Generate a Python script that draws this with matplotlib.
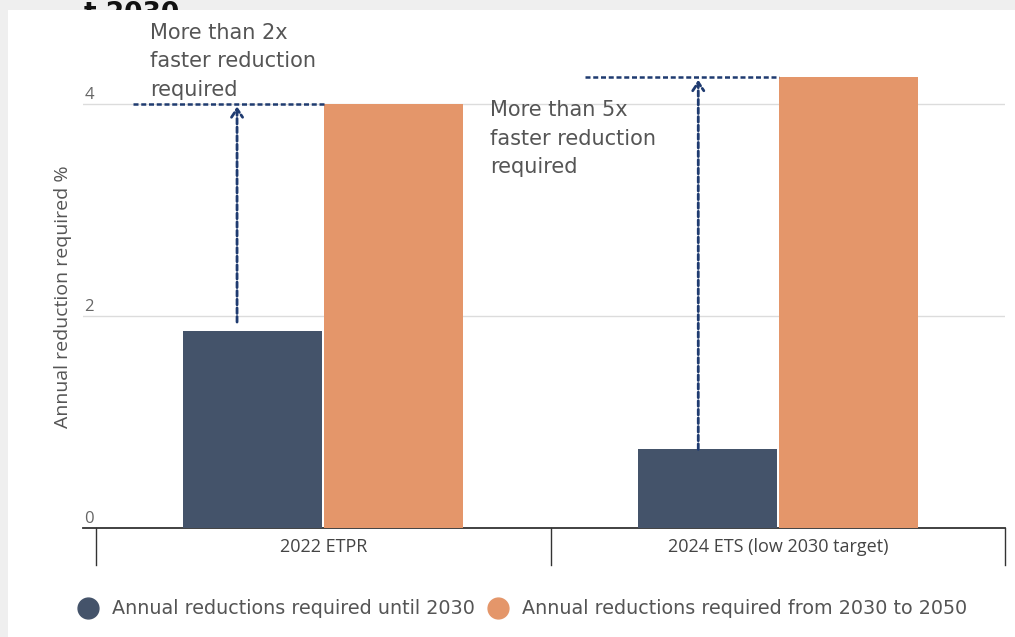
import matplotlib.pyplot as plt
from matplotlib.lines import Line2D
from matplotlib.patches import Rectangle

# Data
categories = ["2022 ETPR", "2024 ETS (low 2030 target)"]
until_2030 = [1.86, 0.745]
from_2030_to_2050 = [4.0, 4.25]
series_names = ["Annual reductions required until 2030",
                "Annual reductions required from 2030 to 2050"]
notes = ["More than 2x\nfaster reduction\nrequired",
         "More than 5x\nfaster reduction\nrequired"]
y_ticks = [0, 2, 4]

DARK = "#44536a"
ORANGE = "#e4966a"
ARROW = "#1f3b70"
FONT = "Open Sans"
WIDE = "DejaVu Sans"

W, H = 1015, 637
fig = plt.figure(figsize=(W / 100, H / 100), dpi=100)
fig.patch.set_facecolor("#efefef")


def px_box(x0, y0, x1, y1):
    # pixel box (top-left origin) -> figure fraction [left, bottom, width, height]
    return [x0 / W, 1 - y1 / H, (x1 - x0) / W, (y1 - y0) / H]


# cut-off title peeking above the white card
fig.text(84 / W, 1 - 1 / H, "t 2030", fontsize=19, fontweight="bold",
         family="DejaVu Sans", color="#111", va="top", ha="left", zorder=0)
fig.patches.append(Rectangle((8 / W, 0), 1 - 8 / W, 1 - 10 / H,
                             transform=fig.transFigure, facecolor="white",
                             edgecolor="none", zorder=1))

ax = fig.add_axes(px_box(83, 40, 1005, 528))
ax.set_zorder(2)
ax.patch.set_alpha(0)
ax.set_xlim(-0.529, 1.5)
ax.set_ylim(0, 4.6)

x = range(len(categories))
bw = 0.306
ax.bar([i - 0.155 for i in x], until_2030, width=bw, color=DARK, zorder=3)
ax.bar([i + 0.155 for i in x], from_2030_to_2050, width=bw, color=ORANGE, zorder=3)

# gridlines and left-aligned tick labels sitting on top of them
for t in y_ticks:
    if t > 0:
        ax.axhline(t, color="#dcdcdc", lw=1, zorder=1)
    ax.text(-0.526, t + 0.047, str(t), ha="left", va="baseline", fontsize=12,
            color="#666", family=FONT)

ax.set_yticks([])
ax.set_xticks([])
for s in ["top", "right", "left"]:
    ax.spines[s].set_visible(False)
ax.spines["bottom"].set_color("#333")
ax.spines["bottom"].set_linewidth(1.3)

# category dividers below the axis
for edge in [-0.5, 0.5, 1.5]:
    ax.plot([edge, edge], [0, -0.35], color="#333", lw=1, clip_on=False)
for i, c in enumerate(categories):
    ax.text(i, -0.18, c, ha="center", va="center", fontsize=13,
            color="#444", family=FONT)

ax.text(-0.5 - 33 / 454.5, 2.18, "Annual reduction required %", rotation=90,
        ha="center", va="center", fontsize=14, color="#555", family=FONT,
        clip_on=False)

# dotted "faster reduction" guides
guides = [
    # (horizontal from x, to x, arrow x, arrow start y, level)
    (-0.419, 0.002, -0.19, until_2030[0] + 0.055, from_2030_to_2050[0]),
    (0.576, 1.003, 0.825, until_2030[1] - 0.03, from_2030_to_2050[1]),
]
for hx0, hx1, axx, y0, level in guides:
    ax.plot([hx0, hx1], [level, level], color=ARROW, lw=1.8,
            dashes=(2, 1.1), zorder=4, clip_on=False)
    ax.annotate("", xy=(axx, level), xytext=(axx, y0),
                arrowprops=dict(arrowstyle="->,head_length=0.6,head_width=0.4",
                                color=ARROW, lw=2, linestyle=(0, (2, 1.1))),
                zorder=4)

ax.text(-0.381, 4.76, notes[0], ha="left", va="top", fontsize=15,
        color="#555", family=WIDE, linespacing=1.52, clip_on=False)
ax.text(0.367, 4.03, notes[1], ha="left", va="top", fontsize=15,
        color="#555", family=WIDE, linespacing=1.52, clip_on=False)

handles = [Line2D([], [], marker="o", ls="none", markersize=15, color=DARK),
           Line2D([], [], marker="o", ls="none", markersize=15, color=ORANGE)]
leg = fig.legend(handles, series_names, loc="center left",
                 bbox_to_anchor=(68.5 / W, 1 - 609 / H), ncol=2, frameon=False,
                 prop={"family": WIDE, "size": 13.8}, handletextpad=0.65,
                 columnspacing=0.65, handlelength=1.2, borderaxespad=0)
for t in leg.get_texts():
    t.set_color("#555")
leg.set_zorder(3)

fig.savefig("out.png", dpi=100, facecolor=fig.get_facecolor())
